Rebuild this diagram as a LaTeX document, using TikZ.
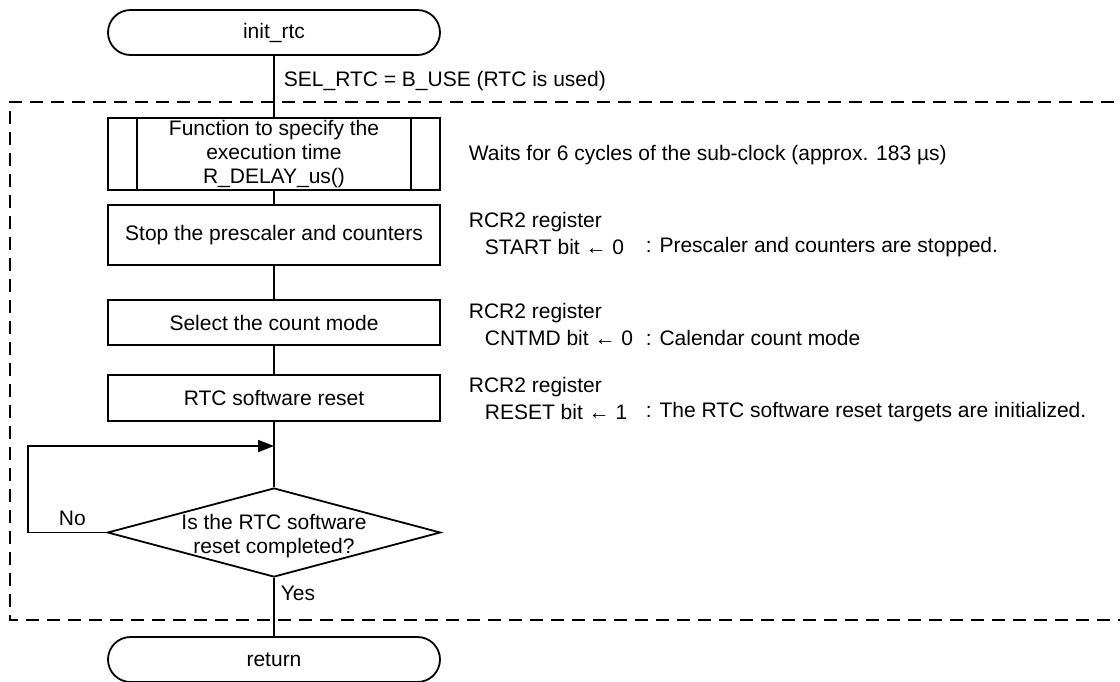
\documentclass[tikz,border=0pt]{standalone}
\usepackage{fontspec}
\setmainfont{Liberation Sans}
\usetikzlibrary{shapes.geometric,arrows.meta}

\begin{document}
\begin{tikzpicture}[x=0.5pt,y=-0.5pt,
  font=\fontsize{10.5}{11.8}\selectfont,
  line width=0.9pt,
  proc/.style={draw, rectangle, minimum width=166pt, inner sep=0pt, align=center},
  term/.style={draw, rectangle, rounded corners=11.25pt, minimum width=166pt, minimum height=22.5pt},
  dec/.style={draw, diamond, minimum width=166.5pt, minimum height=44.5pt, inner sep=0pt},
  note/.style={anchor=west, inner sep=0pt},
  group/.style={dash pattern=on 6.5pt off 4pt},
  loopback/.style={-{Triangle[length=8pt,width=6pt]}}]

\useasboundingbox (0,0) rectangle (1120,681);

% dashed region enclosing the RTC branch (open on the right)
\draw[group] (1135,102) -- (10,102) -- (10,620) -- (1135,620);

% flow elements
\node[term] (start) at (274,32.5) {init\_rtc};
\node[proc, minimum height=36pt] (delay) at (274,154)
  {Function to specify the\\execution time\\R\_DELAY\_us()};
\draw ([xshift=15pt]delay.north west) -- ([xshift=15pt]delay.south west);
\draw ([xshift=-15pt]delay.north east) -- ([xshift=-15pt]delay.south east);
\node[proc, minimum height=30pt] (stop) at (274,235) {Stop the prescaler and counters};
\node[proc, minimum height=22.5pt] (mode) at (274,322.5) {Select the count mode};
\node[proc, minimum height=23pt] (reset) at (274,398) {RTC software reset};
\coordinate (merge) at (274,446);
\coordinate (corner) at (28,446);
\node[dec] (done) at (274,532.5) {};
\node[align=center, inner sep=0pt] (donetext) at (274,536) {Is the RTC software\\reset completed?};
\node[term] (ret) at (274,659.5) {return};

% connectors
\draw (start) -- (delay);
\draw (delay) -- (stop);
\draw (stop) -- (mode);
\draw (mode) -- (reset);
\draw (reset) -- (done);
\draw (done) -- (ret);
\draw[loopback] (done.west) -- (done.west -| corner) -- (corner) -- (merge);

% branch labels
\node[note] (no) at (58,518) {No};
\node[note] (yes) at (280,593) {Yes};
\node[note] (sel) at (283,81) {SEL\_RTC = B\_USE (RTC is used)};

% annotations
\node[note] (n1) at (468,155) {Waits for 6 cycles of the sub-clock (approx. 183 µs)};
\node[note] (n2a) at (468,222) {RCR2 register};
\node[note] (n2b) at (484,247) {START bit ← 0};
\node[note] (n2c) at (645,247) {: Prescaler and counters are stopped.};
\node[note] (n3a) at (468,313) {RCR2 register};
\node[note] (n3b) at (484,338) {CNTMD bit ← 0};
\node[note] (n3c) at (645,338) {: Calendar count mode};
\node[note] (n4a) at (468,387) {RCR2 register};
\node[note] (n4b) at (484,412) {RESET bit ← 1};
\node[note] (n4c) at (645,412) {: The RTC software reset targets are initialized.};
\end{tikzpicture}
\end{document}
